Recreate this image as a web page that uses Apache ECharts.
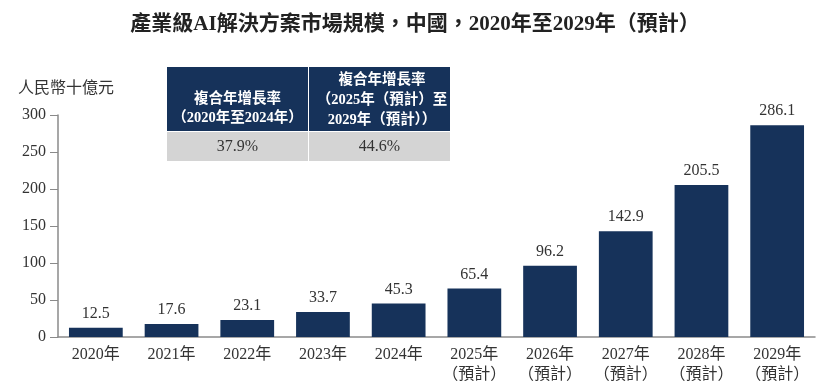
<!DOCTYPE html>
<html><head><meta charset="utf-8">
<script src="https://cdn.jsdelivr.net/npm/echarts@6/dist/echarts.min.js"></script>
<style>html,body{margin:0;padding:0;background:#fff}#c{width:830px;height:392px}</style>
</head><body><div id="c"></div>
<script>
const title = '產業級AI解決方案市場規模，中國，2020年至2029年（預計）';
const categories = ['2020年','2021年','2022年','2023年','2024年','2025年\n（預計）','2026年\n（預計）','2027年\n（預計）','2028年\n（預計）','2029年\n（預計）'];
const values = [12.5, 17.6, 23.1, 33.7, 45.3, 65.4, 96.2, 142.9, 205.5, 286.1];
const yUnit = '人民幣十億元';
const tableHeaders = ['複合年增長率\n（2020年至2024年）', '複合年增長率\n（2025年（預計）至\n2029年（預計））'];
const tableValues = ['37.9%', '44.6%'];

const FONT = "'Liberation Serif', 'Noto Sans CJK TC', serif";
const NAVY = '#16325a';
const chart = echarts.init(document.getElementById('c'));
chart.setOption({
  animation: false,
  title: {text: title, left: 'center', top: 9, textStyle: {fontFamily: FONT, fontSize: 21, fontWeight: 'bold', color: '#222'}},
  grid: {left: 58, right: 15, top: 115, bottom: 55},
  xAxis: {
    type: 'category', data: categories,
    axisLine: {lineStyle: {color: '#8a8a8a', width: 1.5}},
    axisTick: {show: false},
    axisLabel: {fontFamily: FONT, fontSize: 16, color: '#333', lineHeight: 20, margin: 8, interval: 0}
  },
  yAxis: {
    type: 'value', min: 0, max: 300, interval: 50,
    name: yUnit, nameLocation: 'end', nameGap: 18,
    nameTextStyle: {fontFamily: FONT, fontSize: 16, color: '#333', align: 'left', padding: [0,0,0,-40]},
    axisLine: {show: true, lineStyle: {color: '#8a8a8a', width: 1.5}},
    axisTick: {show: true, length: 8, lineStyle: {color: '#8a8a8a'}},
    splitLine: {show: false},
    axisLabel: {fontFamily: FONT, fontSize: 16, color: '#333', margin: 12}
  },
  series: [{
    type: 'bar', data: values, barWidth: '71%',
    itemStyle: {color: NAVY},
    label: {show: true, position: 'top', distance: 6, fontFamily: FONT, fontSize: 16, color: '#333'}
  }],
  graphic: [
    {type: 'rect', shape: {x: 167, y: 67, width: 141, height: 64}, style: {fill: NAVY}},
    {type: 'rect', shape: {x: 309, y: 67, width: 141, height: 64}, style: {fill: NAVY}},
    {type: 'rect', shape: {x: 167, y: 132, width: 141, height: 29}, style: {fill: '#d4d4d4'}},
    {type: 'rect', shape: {x: 309, y: 132, width: 141, height: 29}, style: {fill: '#d4d4d4'}},
    {type: 'text', x: 237.5, y: 109, style: {text: tableHeaders[0], fill: '#fff', font: "bold 14.5px 'Liberation Serif','Noto Sans CJK TC'", align: 'center', verticalAlign: 'middle', lineHeight: 19}},
    {type: 'text', x: 382, y: 100, style: {text: tableHeaders[1], fill: '#fff', font: "bold 14.5px 'Liberation Serif','Noto Sans CJK TC'", align: 'center', verticalAlign: 'middle', lineHeight: 20}},
    {type: 'text', x: 237.5, y: 147, style: {text: tableValues[0], fill: '#333', font: "16px 'Liberation Serif','Noto Sans CJK TC'", align: 'center', verticalAlign: 'middle'}},
    {type: 'text', x: 379.5, y: 147, style: {text: tableValues[1], fill: '#333', font: "16px 'Liberation Serif','Noto Sans CJK TC'", align: 'center', verticalAlign: 'middle'}}
  ]
});
</script></body></html>
